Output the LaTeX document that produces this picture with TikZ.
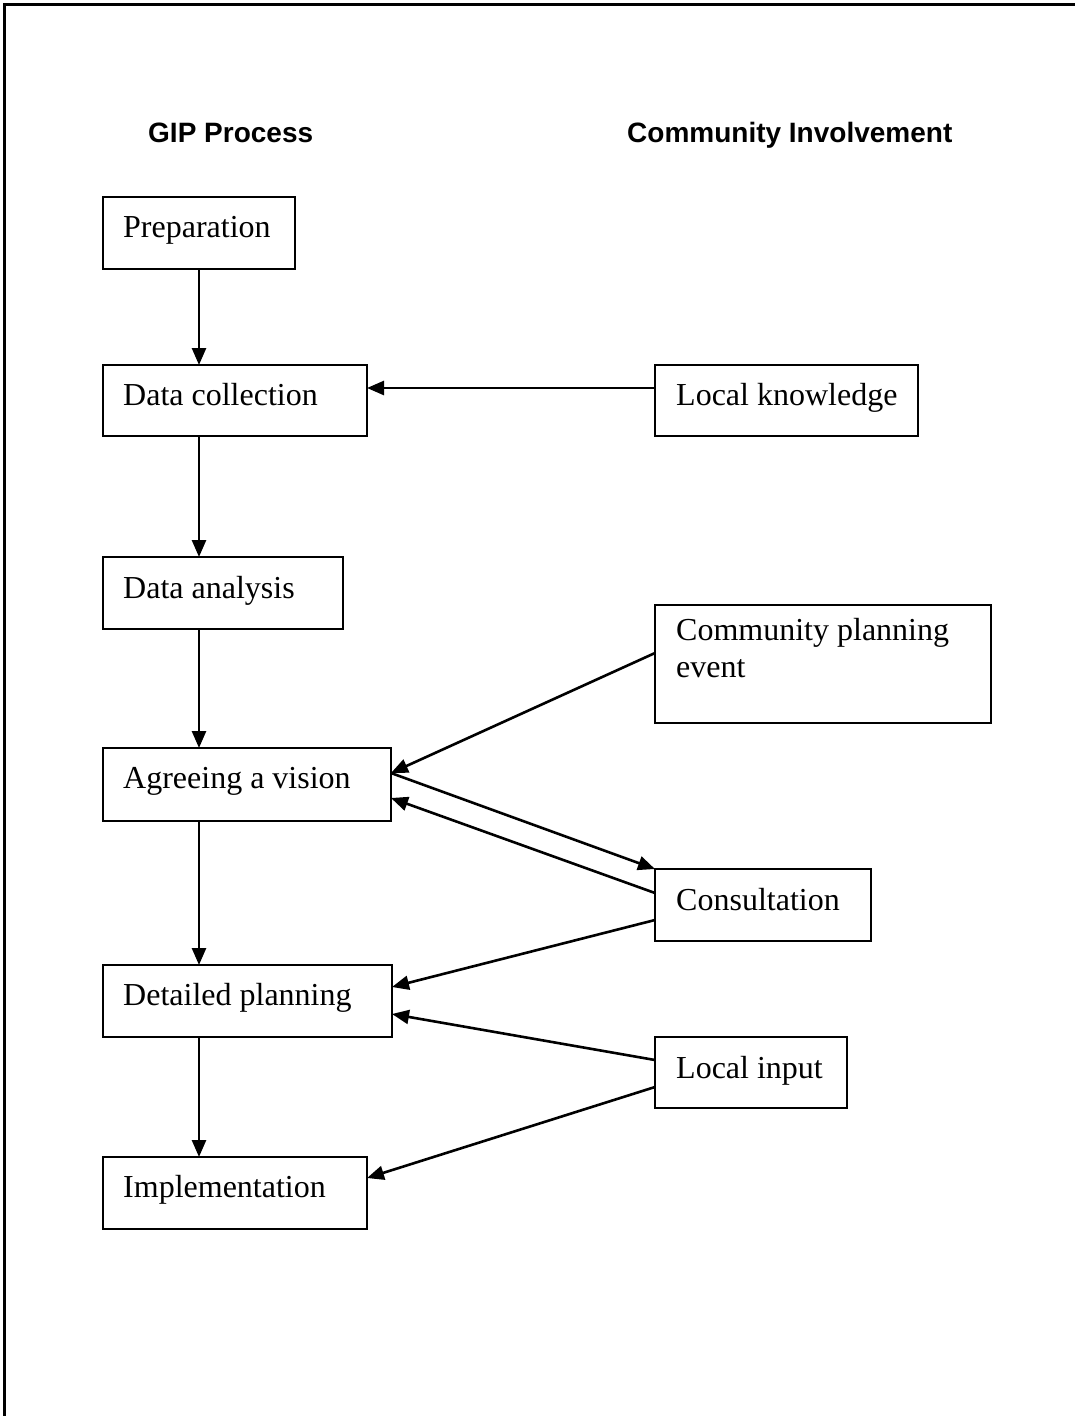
\documentclass[tikz,border=0pt]{standalone}
\usepackage{fontspec}
\setmainfont{Liberation Serif}
\newfontfamily\hdfont{Liberation Sans}
\usetikzlibrary{arrows.meta,calc}
\begin{document}
\begin{tikzpicture}[x=1pt,y=-1pt,
  box/.style={draw,line width=2.6pt,rectangle,anchor=north west,inner sep=0pt,outer sep=0pt},
  txt/.style={anchor=base west,inner sep=0pt,font=\fontsize{32}{37}\selectfont},
  hd/.style={anchor=base west,inner sep=0pt,font=\hdfont\bfseries\fontsize{28}{32}\selectfont},
  arr/.style={line width=2.6pt,-{Triangle[length=17pt,width=14pt]}}]
\useasboundingbox (0,0) rectangle (1075,1416);
\draw[line width=3pt] (4,1416) -- (4,4) -- (1075,4);
% headers
\node[hd] (h1) at (148,142) {GIP Process};
\node[hd] (h2) at (627,142) {Community Involvement};
% boxes
\node[box,minimum width=192pt,minimum height=72pt] (prep) at (103,197) {};
\node[box,minimum width=264pt,minimum height=71pt] (dc) at (103,365) {};
\node[box,minimum width=263pt,minimum height=71pt] (lk) at (655,365) {};
\node[box,minimum width=240pt,minimum height=72pt] (da) at (103,557) {};
\node[box,minimum width=336pt,minimum height=118pt] (cpe) at (655,605) {};
\node[box,minimum width=288pt,minimum height=73pt] (agr) at (103,748) {};
\node[box,minimum width=216pt,minimum height=72pt] (con) at (655,869) {};
\node[box,minimum width=289pt,minimum height=72pt] (det) at (103,965) {};
\node[box,minimum width=192pt,minimum height=71pt] (li) at (655,1037) {};
\node[box,minimum width=264pt,minimum height=72pt] (imp) at (103,1157) {};
% texts
\node[txt] (prept) at (123,237) {Preparation};
\node[txt] (dct) at (123,405) {Data collection};
\node[txt] (lkt) at (676,405) {Local knowledge};
\node[txt] (dat) at (123,598) {Data analysis};
\node[txt] (cpet1) at (676,640) {Community planning};
\node[txt] (cpet2) at (676,677) {event};
\node[txt] (agrt) at (123,788) {Agreeing a vision};
\node[txt] (cont) at (676,910) {Consultation};
\node[txt] (dett) at (123,1005) {Detailed planning};
\node[txt] (lit) at (676,1078) {Local input};
\node[txt] (impt) at (123,1197) {Implementation};
% vertical flow
\draw[arr] (prep.south) -- (prep.south |- dc.north);
\draw[arr] (prep.south |- dc.south) -- (prep.south |- da.north);
\draw[arr] (prep.south |- da.south) -- (prep.south |- agr.north);
\draw[arr] (prep.south |- agr.south) -- (prep.south |- det.north);
\draw[arr] (prep.south |- det.south) -- (prep.south |- imp.north);
% side connectors
\coordinate (lkw) at ([yshift=-23pt]lk.north west);
\draw[arr] (lkw) -- (lkw -| dc.east);
\draw[arr] ([yshift=-48pt]cpe.north west) -- ([yshift=-25pt]agr.north east);
\draw[arr] ([yshift=-25pt]agr.north east) -- (con.north west);
\draw[arr] ([yshift=-24pt]con.north west) -- ([yshift=-50pt]agr.north east);
\draw[arr] ([yshift=-51pt]con.north west) -- ([yshift=-22pt]det.north east);
\draw[arr] ([yshift=-23pt]li.north west) -- ([yshift=-49pt]det.north east);
\draw[arr] ([yshift=-50pt]li.north west) -- ([yshift=-21pt]imp.north east);
\end{tikzpicture}
\end{document}
